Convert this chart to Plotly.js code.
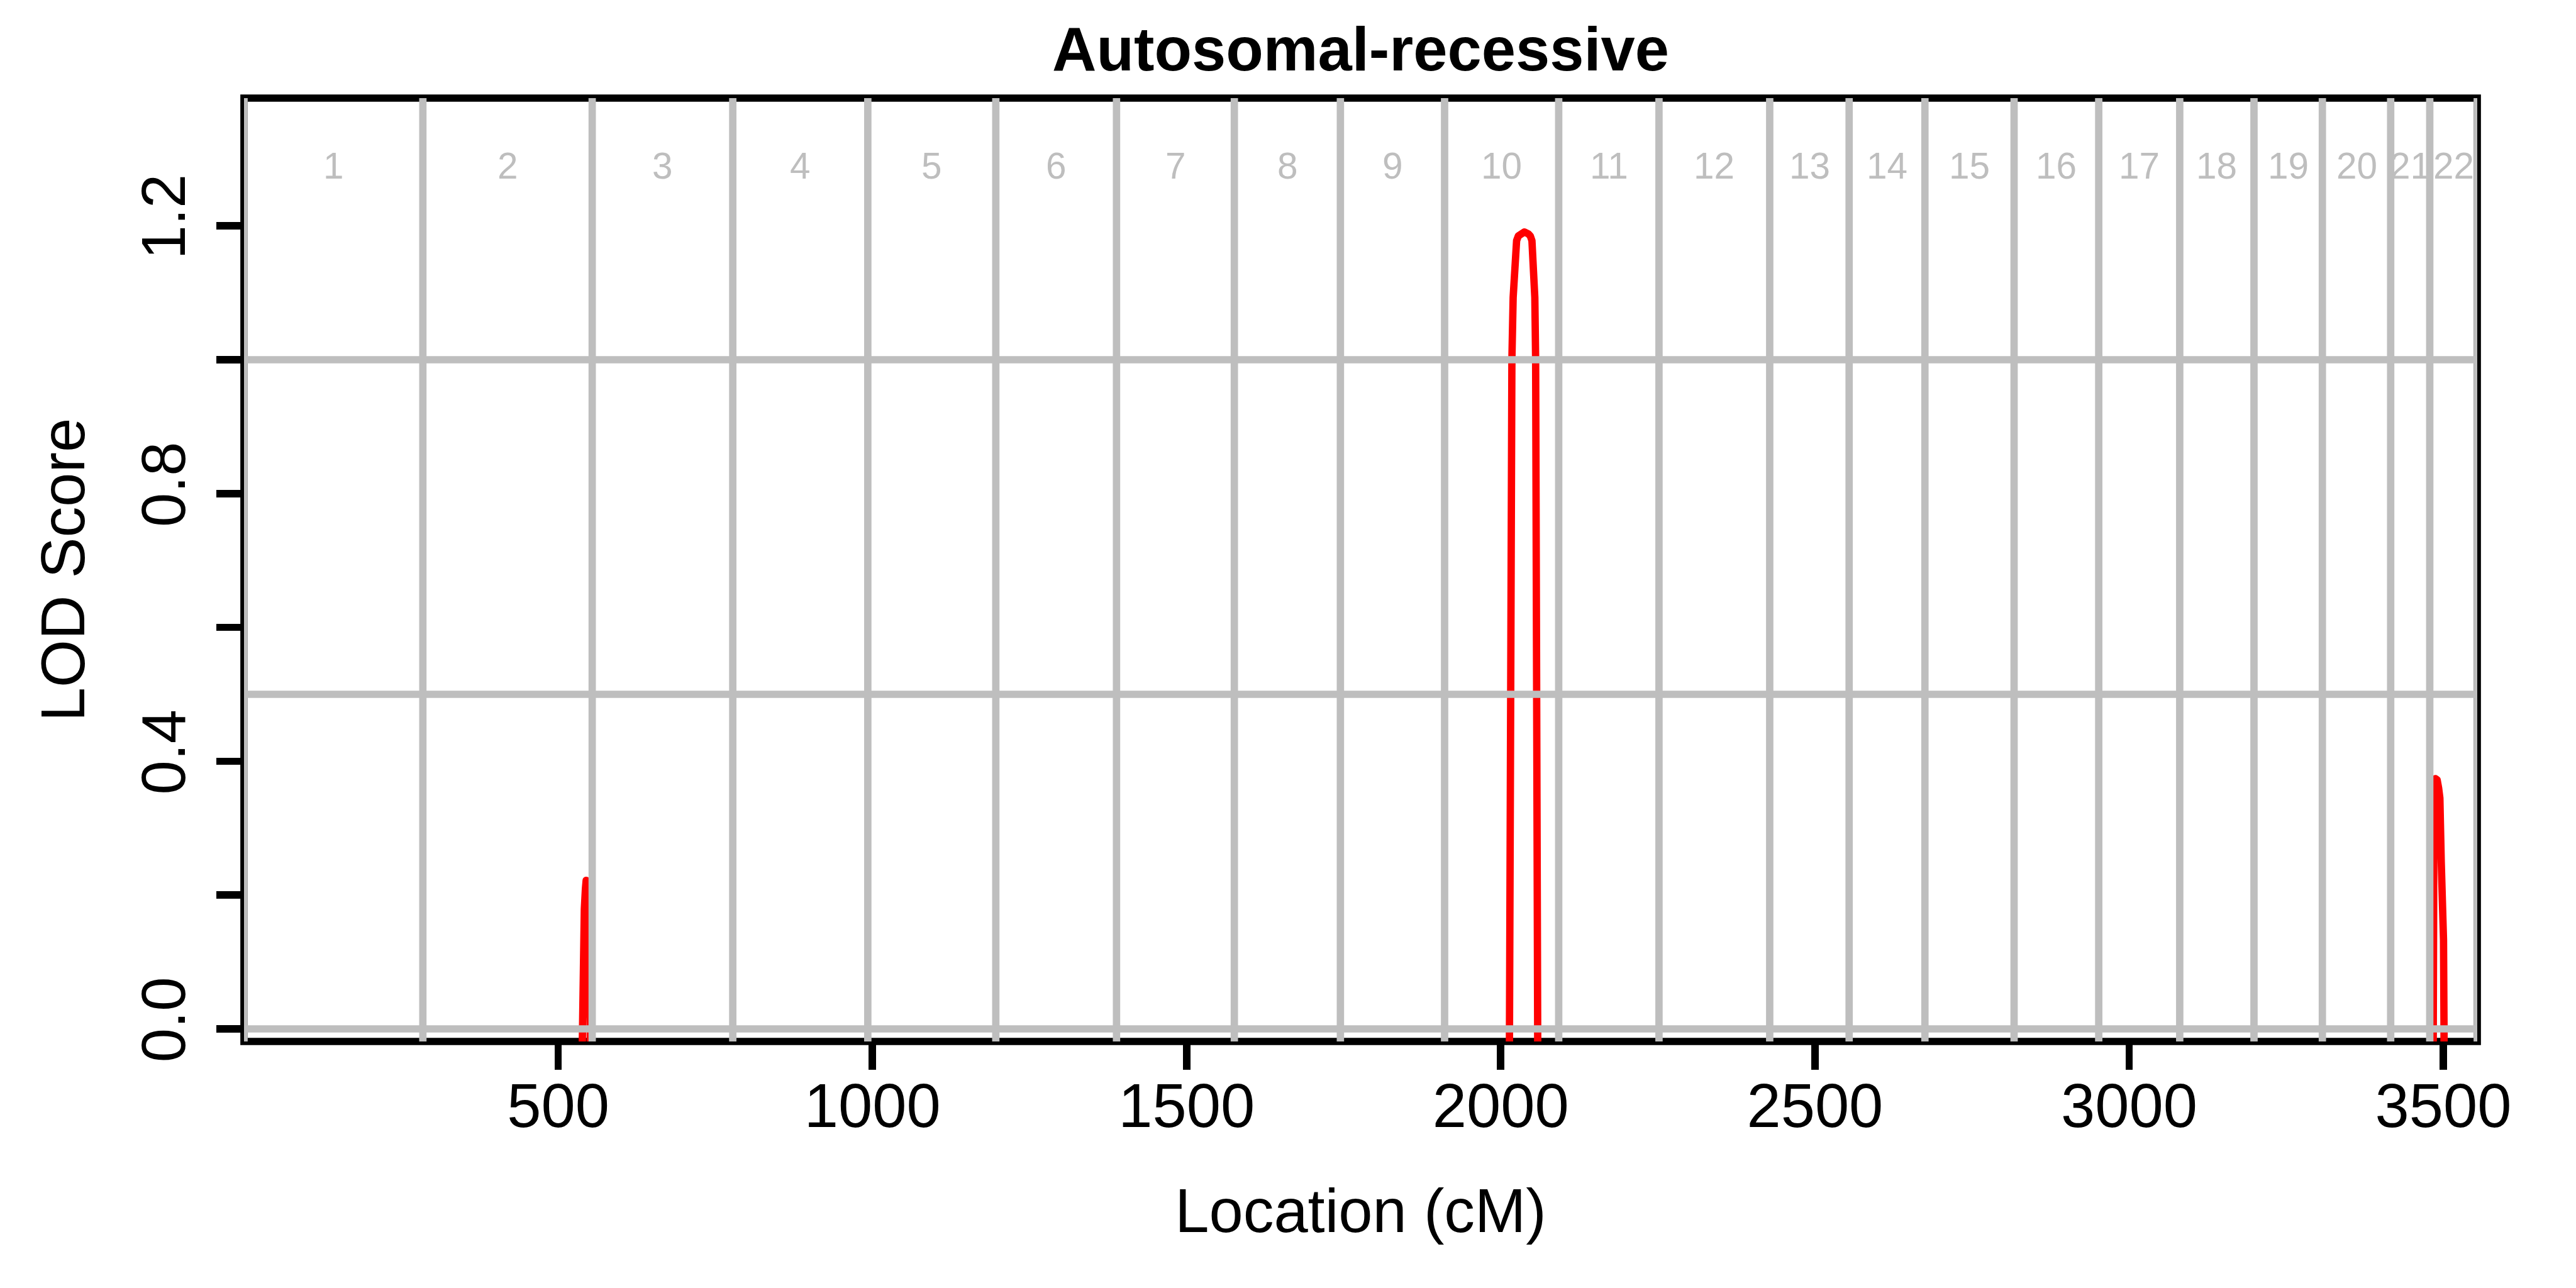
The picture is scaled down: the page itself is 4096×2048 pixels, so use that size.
<!DOCTYPE html>
<html>
<head>
<meta charset="utf-8">
<script src="https://cdn.plot.ly/plotly-3.0.1.min.js"></script>
<style>
html,body{margin:0;padding:0;background:#ffffff;}
#chart{width:4096px;height:2048px;}
#chart .scatterlayer .js-line{stroke-linejoin:round !important;}
</style>
</head>
<body>
<div id="chart"></div>
<script>
// ---- data ----
const chromLabels = ['1','2','3','4','5','6','7','8','9','10','11','12','13','14','15','16','17','18','19','20','21','22'];
// cumulative chromosome boundaries (cM)
const chromBounds = [0, 284.6, 554.1, 777.8, 992.7, 1196.4, 1388.5, 1576.0, 1744.8, 1910.6, 2092.2,
                     2251.8, 2428.0, 2554.4, 2675.0, 2816.9, 2951.6, 3080.5, 3198.7, 3307.5, 3416.2, 3478.4, 3554.0];
const lodThresholds = [0, 0.5, 1.0];

// LOD peaks (values below the visible range are off-scale negatives)
const peakChr2X  = [537.9, 538.2, 540.6, 541.6, 543.3, 544.5, 546.5, 548.5, 550.2, 550.9, 551.1];
const peakChr2Y  = [-0.05, 0.0, 0.118, 0.179, 0.209, 0.222, 0.205, 0.15, 0.07, 0.0, -0.05];
const peakChr10X = [2013.7, 2013.8, 2014.1, 2015.4, 2017.7, 2019.7, 2022.2, 2025.2, 2028.0, 2031.0, 2037.5, 2044.0,
                    2047.0, 2049.6, 2051.9, 2054.2, 2055.5, 2056.8, 2058.1, 2058.8, 2058.9];
const peakChr10Y = [-0.05, 0.0, 0.502, 0.754, 1.0, 1.093, 1.152, 1.178, 1.185, 1.188, 1.191, 1.188,
                    1.185, 1.178, 1.152, 1.093, 1.0, 0.754, 0.502, 0.0, -0.05];
const peakChr22X = [3483.8, 3483.8, 3484.0, 3485.2, 3487.5, 3490.2, 3492.5, 3494.5, 3496.7, 3500.3, 3501.1, 3501.2];
const peakChr22Y = [-0.05, 0.0, 0.32, 0.36, 0.374, 0.372, 0.36, 0.345, 0.249, 0.133, 0.0, -0.05];

const xTickVals = [500, 1000, 1500, 2000, 2500, 3000, 3500];
const xTickText = ['500', '1000', '1500', '2000', '2500', '3000', '3500'];
const yTickVals = [0, 0.2, 0.4, 0.6, 0.8, 1.0, 1.2];
const yTickText = ['0.0', '', '0.4', '', '0.8', '', '1.2'];

const titleText = 'Autosomal-recessive';
const xTitleText = 'Location (cM)';
const yTitleText = 'LOD Score';

// ---- build traces ----
const xRange = [chromBounds[0], chromBounds[chromBounds.length - 1]];
const yRange = [-0.0188, 1.391];

// red LOD curve, segments separated by gaps
const lodX = [].concat(peakChr2X, [null], peakChr10X, [null], peakChr22X);
const lodY = [].concat(peakChr2Y, [null], peakChr10Y, [null], peakChr22Y);

// grey chromosome boundaries
const vX = [], vY = [];
chromBounds.forEach(b => { vX.push(b, b, null); vY.push(yRange[0] - 1, yRange[1] + 1, null); });
// grey LOD threshold lines
const hX = [], hY = [];
lodThresholds.forEach(t => { hX.push(xRange[0] - 500, xRange[1] + 500, null); hY.push(t, t, null); });

const GREY = '#bebebe';
const LW = 11.7;
const FONT = '"Liberation Sans", Arial, Helvetica, sans-serif';

const traces = [
  {type: 'scatter', mode: 'lines', x: lodX, y: lodY, line: {color: '#ff0000', width: LW}, connectgaps: false, hoverinfo: 'skip', showlegend: false},
  {type: 'scatter', mode: 'lines', x: vX, y: vY, line: {color: GREY, width: LW}, connectgaps: false, hoverinfo: 'skip', showlegend: false},
  {type: 'scatter', mode: 'lines', x: hX, y: hY, line: {color: GREY, width: LW}, connectgaps: false, hoverinfo: 'skip', showlegend: false}
];

// chromosome labels at chromosome midpoints
const annotations = chromLabels.map((lab, i) => ({
  x: (chromBounds[i] + chromBounds[i + 1]) / 2,
  xref: 'x', y: 0.9282, yref: 'paper',
  text: lab, showarrow: false, xanchor: 'center', yanchor: 'middle',
  font: {family: FONT, size: 58.5, color: GREY}
}));

const layout = {
  width: 4096, height: 2048,
  margin: {l: 388, r: 157, t: 155.5, b: 391.5, pad: 0},
  paper_bgcolor: '#ffffff', plot_bgcolor: '#ffffff',
  showlegend: false,
  font: {family: FONT, size: 97.5, color: '#000000'},
  title: {
    text: '<b>' + titleText + '</b>',
    x: 0.5, xref: 'paper', xanchor: 'center',
    y: 1 - 78 / 2048, yref: 'container', yanchor: 'middle',
    font: {family: FONT, size: 97.5, color: '#000000'}
  },
  xaxis: {
    range: xRange, autorange: false,
    showgrid: false, zeroline: false, showline: false,
    tickmode: 'array', tickvals: xTickVals, ticktext: xTickText,
    ticks: 'outside', ticklen: 44, tickwidth: 11.7, tickcolor: '#000000',
    ticklabelstandoff: -26,
    tickfont: {family: FONT, size: 97.5, color: '#000000'},
    title: {text: xTitleText, standoff: 78, font: {family: FONT, size: 97.5, color: '#000000'}},
    automargin: false, fixedrange: true
  },
  yaxis: {
    range: yRange, autorange: false,
    showgrid: false, zeroline: false, showline: false,
    tickmode: 'array', tickvals: yTickVals, ticktext: yTickText,
    ticks: 'outside', ticklen: 43, tickwidth: 11.7, tickcolor: '#000000',
    tickangle: -90, ticklabelstandoff: 11,
    tickfont: {family: FONT, size: 97.5, color: '#000000'},
    title: {text: yTitleText, standoff: 38, font: {family: FONT, size: 97.5, color: '#000000'}},
    automargin: false, fixedrange: true
  },
  shapes: [{
    type: 'rect', xref: 'paper', yref: 'paper', x0: 0, x1: 1, y0: 0, y1: 1,
    line: {color: '#000000', width: 11.7}, fillcolor: 'rgba(0,0,0,0)', layer: 'below'
  }],
  annotations: annotations
};

Plotly.newPlot('chart', traces, layout, {staticPlot: true, displayModeBar: false});
</script>
</body>
</html>
